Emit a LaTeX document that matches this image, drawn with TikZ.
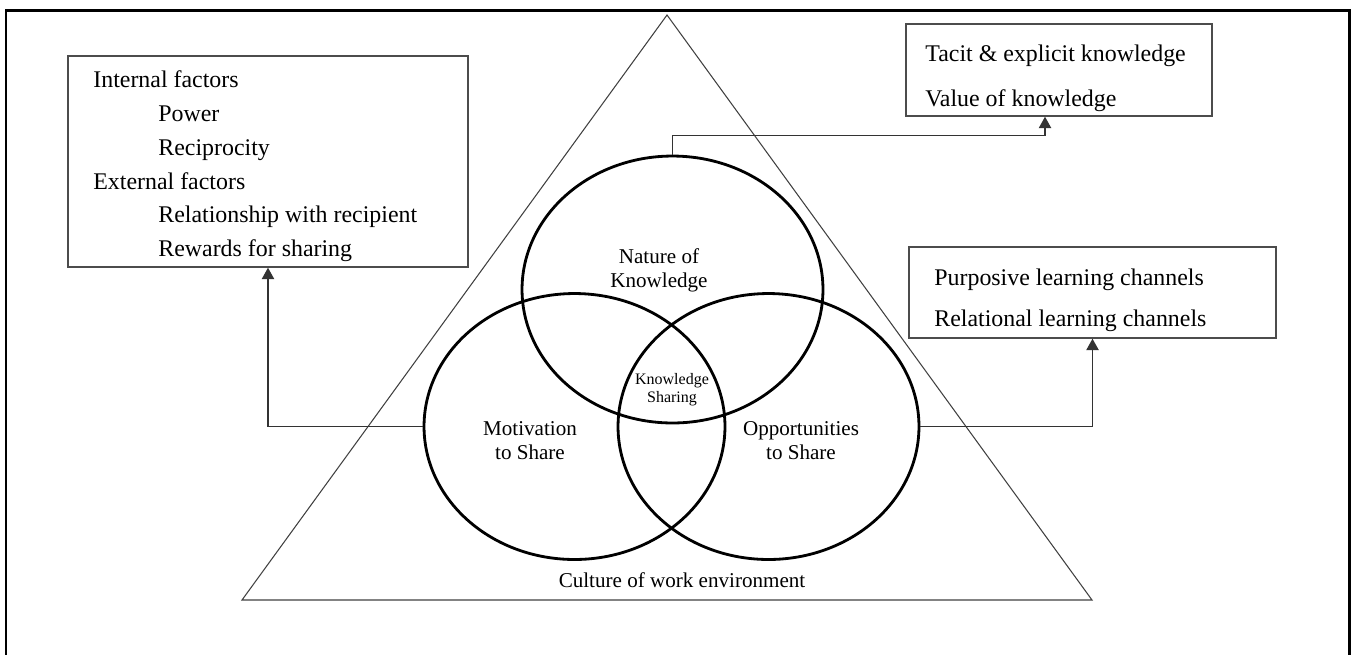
\documentclass[tikz,border=0pt]{standalone}
\usepackage{fontspec}
\setmainfont{Liberation Serif}
\usepackage{tikz}
\usetikzlibrary{shapes,arrows.meta,positioning,calc}
\tikzset{
    frame/.style={line width=1.7pt, black},
    tri/.style={line width=0.6pt, black!75},
    infobox/.style={draw=black!70, line width=0.8pt, rectangle, inner sep=0pt},
    area/.style={draw, ellipse, line width=1.6pt, minimum width=6.02cm, minimum height=5.32cm, inner sep=0pt},
    conn/.style={line width=0.8pt, black!80},
    arr/.style={conn, -{Triangle[length=6.5pt, width=7pt]}},
    item/.style={anchor=base west, inner sep=0pt, font=\fontsize{13.6}{16}\selectfont},
    label/.style={align=center, inner sep=0pt, font=\fontsize{12}{13.6}\selectfont},
}

\begin{document}
\begin{tikzpicture}[x=0.02cm, y=-0.02cm]
    \useasboundingbox (0,0) rectangle (1351,654);

    % Outer frame (open at the bottom)
    \draw[frame] (6,660) -- (6,10) -- (1349,10) -- (1349,660);

    % Culture triangle
    \coordinate (apex) at (667,15);
    \coordinate (baseL) at (242,600);
    \coordinate (baseR) at (1092,600);
    \draw[tri] (apex) -- (baseR) -- (baseL) -- cycle;
    \node[label] (culture) at (682,580) {Culture of work environment};

    % Three overlapping areas
    \node[area, minimum height=5.34cm] (nature) at (672.5,289.5) {};
    \node[area] (motive) at (574.5,426.5) {};
    \node[area] (oppor) at (768.5,426.5) {};

    \node[label] (natlbl) at (659,270) {Nature of\\Knowledge};
    \node[label] (motlbl) at (530,441) {Motivation\\to Share};
    \node[label] (opplbl) at (801,441) {Opportunities\\to Share};
    \node[label, font=\fontsize{9.1}{10.2}\selectfont] (kslbl) at (672,390) {Knowledge\\Sharing};

    % Factors box
    \node[infobox, minimum width=8cm, minimum height=4.22cm] (factors) at (268,161.5) {};
    \node[item] (intf) at (93,87) {Internal factors};
    \node[item] (pow) at (158,121) {Power};
    \node[item] (rec) at (158,155) {Reciprocity};
    \node[item] (extf) at (93,189) {External factors};
    \node[item] (rel) at (158,222) {Relationship with recipient};
    \node[item] (rew) at (158,256) {Rewards for sharing};

    % Knowledge box
    \node[infobox, minimum width=6.12cm, minimum height=1.84cm] (knowbox) at (1059,70) {};
    \node[item] (tacit) at (925,61) {Tacit \& explicit knowledge};
    \node[item] (value) at (925,106) {Value of knowledge};

    % Channels box
    \node[infobox, minimum width=7.34cm, minimum height=1.82cm] (channels) at (1092.5,292.5) {};
    \node[item] (purp) at (934,285) {Purposive learning channels};
    \node[item] (relc) at (934,326) {Relational learning channels};

    % Connectors
    \draw[arr] (motive.west) -| (factors.south);
    \draw[arr] (oppor.east) -| (channels.south);
    \draw[arr] (nature.north) -- ++(0,-19) -| ([xshift=-0.28cm]knowbox.south);
\end{tikzpicture}
\end{document}
